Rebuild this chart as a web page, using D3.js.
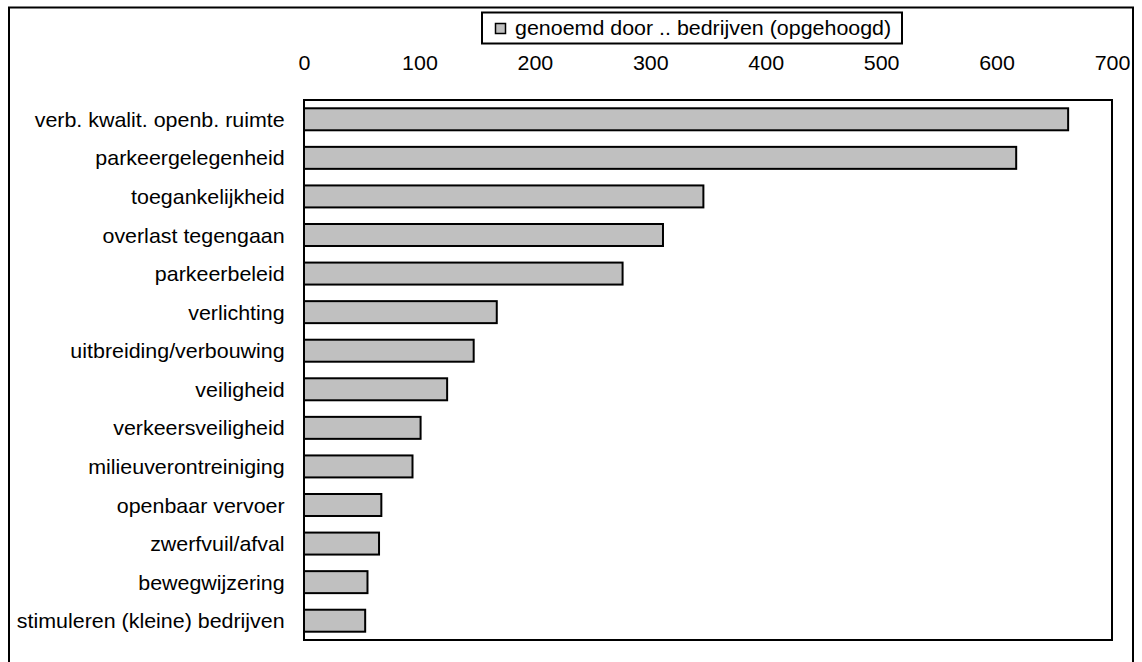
<!DOCTYPE html>
<html>
<head>
<meta charset="utf-8">
<script src="https://cdn.jsdelivr.net/npm/d3@7"></script>
<style>
  html, body { margin: 0; padding: 0; background: #fff; }
  svg { display: block; font-family: "Liberation Sans", Arial, sans-serif; }
</style>
</head>
<body>
<svg id="chart" width="1142" height="662"></svg>
<script>
// Aspects mentioned by companies (weighted counts)
const categories = [
  "verb. kwalit. openb. ruimte",
  "parkeergelegenheid",
  "toegankelijkheid",
  "overlast tegengaan",
  "parkeerbeleid",
  "verlichting",
  "uitbreiding/verbouwing",
  "veiligheid",
  "verkeersveiligheid",
  "milieuverontreiniging",
  "openbaar vervoer",
  "zwerfvuil/afval",
  "bewegwijzering",
  "stimuleren (kleine) bedrijven"
];
const values = [662, 617, 346, 311, 276, 167, 147, 124, 101, 94, 67, 65, 55, 53];
const tickValues = [0, 100, 200, 300, 400, 500, 600, 700];
const seriesName = "genoemd door .. bedrijven (opgehoogd)";

const svg = d3.select("#chart");
const plot = { left: 304, right: 1112, top: 100, bottom: 640 };
const fontSize = 21;
const stretch = "scale(1.02,1)";

// Outer frame
svg.append("rect")
  .attr("x", 9).attr("y", 7.5)
  .attr("width", 1124).attr("height", 700)
  .attr("fill", "none").attr("stroke", "#000").attr("stroke-width", 2);

const x = d3.scaleLinear().domain([0, 700]).range([plot.left, plot.right]);
const y = d3.scaleBand().domain(categories).range([plot.top, plot.bottom]).paddingInner(0.43).paddingOuter(0.215);

// Bars
svg.append("g").selectAll("rect")
  .data(categories)
  .join("rect")
  .attr("x", x(0))
  .attr("y", d => y(d))
  .attr("width", (d, i) => x(values[i]) - x(0))
  .attr("height", y.bandwidth())
  .attr("fill", "#c0c0c0")
  .attr("stroke", "#000")
  .attr("stroke-width", 2);

// Plot area border
svg.append("rect")
  .attr("x", plot.left).attr("y", plot.top)
  .attr("width", plot.right - plot.left).attr("height", plot.bottom - plot.top)
  .attr("fill", "none").attr("stroke", "#000").attr("stroke-width", 2);

// Top value axis (labels only)
const xAxis = svg.append("g")
  .attr("transform", `translate(0,${plot.top - 30})`)
  .call(d3.axisTop(x).tickValues(tickValues).tickSize(0).tickPadding(0).tickFormat(d3.format("d")));
xAxis.select(".domain").remove();
xAxis.selectAll("text")
  .attr("font-size", fontSize)
  .attr("font-family", "Liberation Sans, Arial, sans-serif")
  .attr("fill", "#000")
  .attr("dy", 0)
  .attr("transform", stretch);

// Category axis
const yAxis = svg.append("g")
  .attr("transform", `translate(${plot.left},0)`)
  .call(d3.axisLeft(y).tickSize(0).tickPadding(19));
yAxis.select(".domain").remove();
yAxis.selectAll("text")
  .attr("font-size", fontSize)
  .attr("font-family", "Liberation Sans, Arial, sans-serif")
  .attr("fill", "#000")
  .attr("dy", "0.36em")
  .attr("transform", stretch);

// Legend
const legend = svg.append("g");
legend.append("rect")
  .attr("x", 482).attr("y", 12.5)
  .attr("width", 420).attr("height", 31)
  .attr("fill", "#fff").attr("stroke", "#000").attr("stroke-width", 2);
legend.append("rect")
  .attr("x", 495.5).attr("y", 23.5)
  .attr("width", 10).attr("height", 10)
  .attr("fill", "#c0c0c0").attr("stroke", "#000").attr("stroke-width", 1.5);
legend.append("text")
  .attr("transform", "translate(515,35) " + stretch)
  .attr("font-size", fontSize)
  .attr("fill", "#000")
  .text(seriesName);
</script>
</body>
</html>
